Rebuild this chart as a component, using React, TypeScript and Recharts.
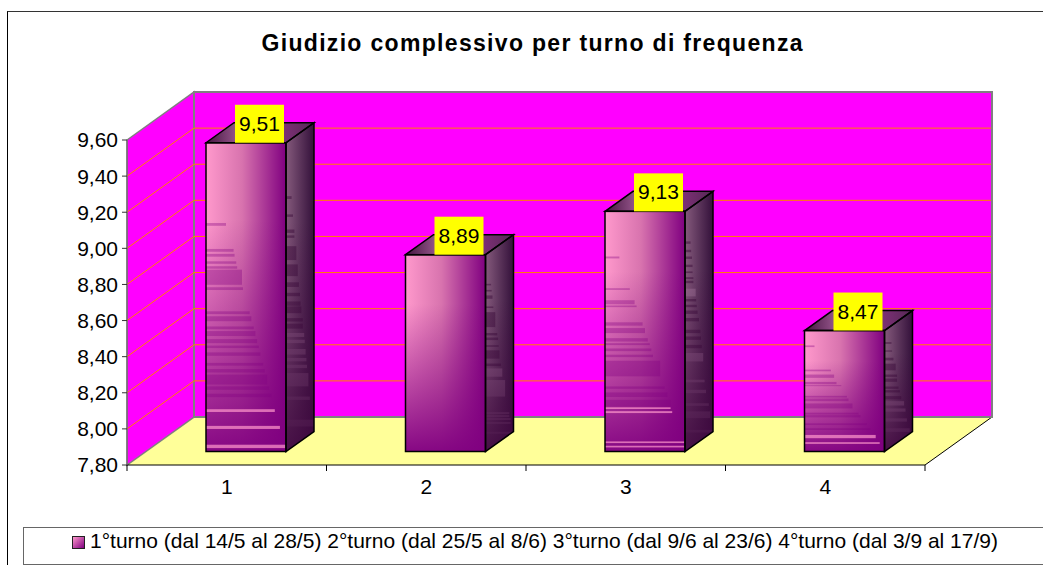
import { BarChart, Bar, XAxis, YAxis, Legend, LabelList } from 'recharts';

const categories = ['1', '2', '3', '4'];
const scores = [9.51, 8.89, 9.13, 8.47];
const yTicks = [7.8, 8.0, 8.2, 8.4, 8.6, 8.8, 9.0, 9.2, 9.4, 9.6];
const turni = [
  '1°turno (dal 14/5 al 28/5)',
  '2°turno (dal 25/5 al 8/6)',
  '3°turno (dal 9/6 al 23/6)',
  '4°turno (dal 3/9 al 17/9)',
];
const chartTitle = 'Giudizio complessivo per turno di frequenza';

// banding of the old bitmap gradient: [top, thickness, length, light?], all as fractions of the face
type Streak = [number, number, number, number?];
const frontStreaks: Streak[][] = [
  [
    [0.26, 0.009, 0.25], [0.344, 0.009, 0.345], [0.36, 0.009, 0.357], [0.384, 0.008, 0.378],
    [0.4, 0.008, 0.39], [0.411, 0.049, 0.45], [0.468, 0.009, 0.462], [0.546, 0.009, 0.546],
    [0.562, 0.016, 0.567], [0.595, 0.009, 0.597], [0.61, 0.016, 0.618], [0.636, 0.013, 0.639],
    [0.657, 0.008, 0.66], [0.679, 0.011, 0.68], [0.713, 0.009, 0.714], [0.733, 0.011, 0.735],
    [0.751, 0.032, 0.765], [0.789, 0.011, 0.79], [0.813, 0.011, 0.82],
    [0.863, 0.009, 0.86, 1], [0.917, 0.01, 0.924, 1], [0.978, 0.011, 1, 1],
  ],
  [],
  [
    [0.188, 0.008, 0.18], [0.32, 0.007, 0.31], [0.37, 0.017, 0.37], [0.392, 0.007, 0.395],
    [0.462, 0.014, 0.47], [0.486, 0.021, 0.5], [0.528, 0.014, 0.535], [0.549, 0.008, 0.56],
    [0.571, 0.011, 0.58], [0.597, 0.01, 0.6], [0.622, 0.065, 0.69], [0.729, 0.01, 0.745],
    [0.754, 0.019, 0.78], [0.785, 0.028, 0.82], [0.816, 0.007, 0.82, 1], [0.832, 0.008, 0.84, 1],
    [0.958, 0.007, 1, 1], [0.976, 0.007, 1, 1],
  ],
  [
    [0.123, 0.014, 0.125], [0.323, 0.014, 0.33], [0.364, 0.027, 0.37], [0.425, 0.019, 0.4],
    [0.452, 0.008, 0.46], [0.54, 0.014, 0.53], [0.562, 0.022, 0.55], [0.603, 0.041, 0.6],
    [0.679, 0.016, 0.675], [0.699, 0.019, 0.7], [0.767, 0.014, 0.78], [0.808, 0.014, 0.825],
    [0.863, 0.027, 0.89, 1], [0.923, 0.014, 0.94, 1],
  ],
];
const sideStreaks: Streak[][] = [
  [
    [0.173, 0.009, 0.2], [0.232, 0.008, 0.25], [0.281, 0.011, 0.3], [0.3, 0.008, 0.3],
    [0.335, 0.045, 0.37], [0.394, 0.038, 0.42], [0.452, 0.015, 0.46], [0.486, 0.011, 0.5],
    [0.514, 0.014, 0.52], [0.53, 0.022, 0.55], [0.568, 0.011, 0.6], [0.586, 0.016, 0.6],
    [0.616, 0.013, 0.65, 1], [0.638, 0.011, 0.67, 1], [0.668, 0.018, 0.7, 1], [0.697, 0.011, 0.73, 1],
    [0.719, 0.011, 0.75, 1], [0.746, 0.043, 0.8, 1], [0.822, 0.011, 0.85, 1], [0.897, 0.022, 1, 1],
  ],
  [
    [0.148, 0.008, 0.2], [0.179, 0.008, 0.22], [0.207, 0.017, 0.25], [0.263, 0.008, 0.28],
    [0.292, 0.076, 0.35], [0.398, 0.012, 0.42], [0.421, 0.013, 0.45], [0.46, 0.008, 0.47],
    [0.486, 0.042, 0.5], [0.553, 0.013, 0.55], [0.578, 0.042, 0.6, 1], [0.637, 0.084, 0.7, 1],
    [0.8, 0.01, 0.85, 1], [0.815, 0.01, 0.85, 1], [0.83, 0.01, 0.9, 1], [0.85, 0.01, 0.9, 1],
    [0.9, 0.01, 1, 1],
  ],
  [
    [0.125, 0.01, 0.2], [0.16, 0.01, 0.22], [0.188, 0.01, 0.25], [0.222, 0.01, 0.27],
    [0.25, 0.007, 0.27], [0.274, 0.008, 0.3], [0.289, 0.01, 0.3], [0.322, 0.032, 0.38, 1],
    [0.365, 0.01, 0.4], [0.389, 0.01, 0.42], [0.413, 0.014, 0.45], [0.444, 0.014, 0.5],
    [0.493, 0.014, 0.55], [0.521, 0.014, 0.57], [0.556, 0.014, 0.6], [0.59, 0.035, 0.65, 1],
    [0.701, 0.011, 0.7, 1], [0.743, 0.014, 0.75, 1], [0.799, 0.011, 0.85, 1], [0.833, 0.028, 0.9, 1],
    [0.91, 0.011, 1, 1],
  ],
  [
    [0.096, 0.014, 0.25], [0.164, 0.011, 0.27], [0.225, 0.022, 0.32], [0.274, 0.055, 0.4],
    [0.364, 0.019, 0.45], [0.397, 0.027, 0.45], [0.463, 0.019, 0.5], [0.493, 0.019, 0.55],
    [0.542, 0.027, 0.6], [0.584, 0.036, 0.7, 1], [0.644, 0.027, 0.75, 1], [0.726, 0.027, 0.8, 1],
    [0.808, 0.03, 0.9, 1],
  ],
];

const W = 1043;
const H = 565;
const PLOT = { left: 127, top: 140, right: 925, bottom: 465 };
const FLOOR_DX = 67;
const FLOOR_DY = 48;
const BAR_DX = 28;
const BAR_DY = 20;
const BAR_SHIFT_X = 19;
const BAR_SHIFT_Y = 13.5;
const BAND = (PLOT.right - PLOT.left) / categories.length;
const FONT = '"Liberation Sans", Arial, sans-serif';

const chartData = categories.map((name, i) => ({ name, score: scores[i] }));

const yOf = (v: number) =>
  PLOT.bottom - ((v - yTicks[0]) / (yTicks[yTicks.length - 1] - yTicks[0])) * (PLOT.bottom - PLOT.top);

const comma = (v: number) => v.toFixed(2).replace('.', ',');

function Walls() {
  const { left, top, right, bottom } = PLOT;
  const dx = FLOOR_DX;
  const dy = FLOOR_DY;
  return (
    <g>
      <polygon
        points={`${left},${bottom} ${left + dx},${bottom - dy} ${right + dx},${bottom - dy} ${right},${bottom}`}
        fill="#FFFF99"
      />
      <line x1={right} y1={bottom} x2={right + dx} y2={bottom - dy} stroke="#000" />
      <polygon
        points={`${left},${top} ${left + dx},${top - dy} ${left + dx},${bottom - dy} ${left},${bottom}`}
        fill="#FF00FF"
        stroke="#808080"
        strokeWidth={1.5}
      />
      <rect
        x={left + dx}
        y={top - dy}
        width={right - left}
        height={bottom - top}
        fill="#FF00FF"
        stroke="#808080"
        strokeWidth={2}
      />
      {yTicks.slice(1, -1).map((v) => (
        <polyline
          key={v}
          points={`${left},${yOf(v)} ${left + dx},${yOf(v) - dy} ${right + dx - 1},${yOf(v) - dy}`}
          fill="none"
          stroke="#FF8000"
          strokeWidth={1}
        />
      ))}
    </g>
  );
}

function Gradients() {
  return (
    <defs>
      <linearGradient id="front" x1="0" y1="0" x2="1" y2="0">
        <stop offset="0%" stopColor="#FF99CC" />
        <stop offset="45%" stopColor="#D873AE" />
        <stop offset="100%" stopColor="#800080" />
      </linearGradient>
      <linearGradient id="frontShade" x1="0" y1="0" x2="0" y2="1">
        <stop offset="25%" stopColor="#800080" stopOpacity={0} />
        <stop offset="100%" stopColor="#800080" stopOpacity={0.95} />
      </linearGradient>
      <linearGradient id="side" x1="0" y1="0" x2="1" y2="0">
        <stop offset="0%" stopColor="#855A7C" />
        <stop offset="100%" stopColor="#33103A" />
      </linearGradient>
      <linearGradient id="sideShade" x1="0" y1="0" x2="0" y2="1">
        <stop offset="30%" stopColor="#400840" stopOpacity={0} />
        <stop offset="100%" stopColor="#400840" stopOpacity={0.9} />
      </linearGradient>
      <linearGradient id="topFace" x1="0" y1="0" x2="1" y2="0">
        <stop offset="0%" stopColor="#44143F" />
        <stop offset="30%" stopColor="#99598F" />
        <stop offset="70%" stopColor="#803078" />
        <stop offset="100%" stopColor="#552855" />
      </linearGradient>
    </defs>
  );
}

function Bar3D(props: any) {
  const { x, y, width, height, index } = props;
  const fx = x + BAR_SHIFT_X;
  const fy = y - BAR_SHIFT_Y;
  const right = fx + width;
  const sidePts = `${right},${fy} ${right + BAR_DX},${fy - BAR_DY} ${right + BAR_DX},${fy + height - BAR_DY} ${right},${fy + height}`;
  const topPts = `${fx},${fy} ${fx + BAR_DX},${fy - BAR_DY} ${right + BAR_DX},${fy - BAR_DY} ${right},${fy}`;
  return (
    <g>
      <clipPath id={`sideClip${index}`}>
        <polygon points={sidePts} />
      </clipPath>
      <polygon points={topPts} fill="url(#topFace)" />
      <polygon points={sidePts} fill="url(#side)" />
      <g clipPath={`url(#sideClip${index})`}>
        {sideStreaks[index].map(([t, h, l, light], i) => (
          <rect
            key={i}
            x={right}
            y={fy + t * height}
            width={l * BAR_DX}
            height={h * height}
            fill={light ? '#A87CA0' : '#300030'}
            fillOpacity={light ? 0.45 : 0.4}
          />
        ))}
      </g>
      <polygon points={sidePts} fill="url(#sideShade)" />
      <rect x={fx} y={fy} width={width} height={height} fill="url(#front)" />
      <rect x={fx} y={fy} width={width} height={height} fill="url(#frontShade)" />
      {frontStreaks[index].map(([t, h, l, light], i) => (
        <rect
          key={i}
          x={fx}
          y={fy + t * height}
          width={l * width}
          height={h * height}
          fill={light ? '#FF99CC' : '#800080'}
          fillOpacity={light ? 0.7 : 0.35}
        />
      ))}
      <rect x={fx} y={fy} width={width} height={height} fill="none" stroke="#000" strokeWidth={1.5} />
      <polygon points={topPts} fill="none" stroke="#000" strokeWidth={1.5} />
      <polygon points={sidePts} fill="none" stroke="#000" strokeWidth={1.5} />
    </g>
  );
}

function ValueLabel(props: any) {
  const { x, y, width, value } = props;
  const cx = x + BAR_SHIFT_X + width / 2 + 13.5;
  const bottom = y - BAR_SHIFT_Y;
  return (
    <g>
      <rect x={cx - 24.5} y={bottom - 38} width={49} height={38} fill="#FFFF00" />
      <text x={cx} y={bottom - 12} textAnchor="middle" fontFamily={FONT} fontSize={21} fill="#000">
        {comma(value)}
      </text>
    </g>
  );
}

function XTick(props: any) {
  const { x, index, payload } = props;
  return (
    <g>
      <line x1={x - BAND / 2} y1={PLOT.bottom} x2={x - BAND / 2} y2={PLOT.bottom + 6} stroke="#000" />
      {index === categories.length - 1 && (
        <line x1={x + BAND / 2} y1={PLOT.bottom} x2={x + BAND / 2} y2={PLOT.bottom + 6} stroke="#000" />
      )}
      <text x={x} y={PLOT.bottom + 29} textAnchor="middle" fontFamily={FONT} fontSize={21} fill="#000">
        {payload.value}
      </text>
    </g>
  );
}

function LegendBox() {
  return (
    <div
      style={{
        boxSizing: 'border-box',
        height: 38,
        border: '1px solid #666',
        borderRight: 'none',
        position: 'relative',
        fontFamily: FONT,
        fontSize: 21,
        color: '#000',
        background: '#fff',
      }}
    >
      <span
        style={{
          position: 'absolute',
          left: 48,
          top: 8,
          width: 11,
          height: 11,
          border: '1px solid #222',
          background: 'linear-gradient(135deg, #FF99CC, #800080)',
        }}
      />
      <span style={{ position: 'absolute', left: 66, top: 1, whiteSpace: 'nowrap' }}>{turni.join(' ')}</span>
    </div>
  );
}

export default function App() {
  return (
    <div style={{ position: 'absolute', left: 0, top: 0, width: W, height: H, overflow: 'hidden', background: '#fff' }}>
      <div
        style={{
          position: 'absolute',
          left: 7,
          top: 11,
          right: 0,
          bottom: 0,
          borderLeft: '1.5px solid #000',
          borderTop: '1.5px solid #333',
        }}
      />
      <BarChart
        width={W}
        height={H}
        data={chartData}
        margin={{ top: PLOT.top, right: W - PLOT.right, bottom: 0, left: 0 }}
        barSize={80}
      >
        <Gradients />
        <Walls />
        <text
          x={532}
          y={51}
          textAnchor="middle"
          fontFamily={FONT}
          fontSize={23}
          fontWeight="bold"
          fill="#000"
          textLength={541}
        >
          {chartTitle}
        </text>
        <XAxis
          dataKey="name"
          height={62}
          axisLine={{ stroke: '#000', strokeWidth: 1 }}
          tickLine={false}
          tick={<XTick />}
          interval={0}
        />
        <YAxis
          width={PLOT.left}
          domain={[yTicks[0], yTicks[yTicks.length - 1]]}
          ticks={yTicks}
          interval={0}
          tickFormatter={comma}
          axisLine={{ stroke: '#666', strokeWidth: 1 }}
          tickLine={{ stroke: '#333' }}
          tickSize={5}
          tickMargin={4}
          tick={{ fontFamily: FONT, fontSize: 21, fill: '#000' }}
        />
        <Legend
          verticalAlign="bottom"
          content={<LegendBox />}
          wrapperStyle={{ left: 23, width: W - 23 }}
        />
        <Bar dataKey="score" name={turni.join(' ')} shape={<Bar3D />} isAnimationActive={false}>
          <LabelList dataKey="score" content={<ValueLabel />} />
        </Bar>
      </BarChart>
    </div>
  );
}
